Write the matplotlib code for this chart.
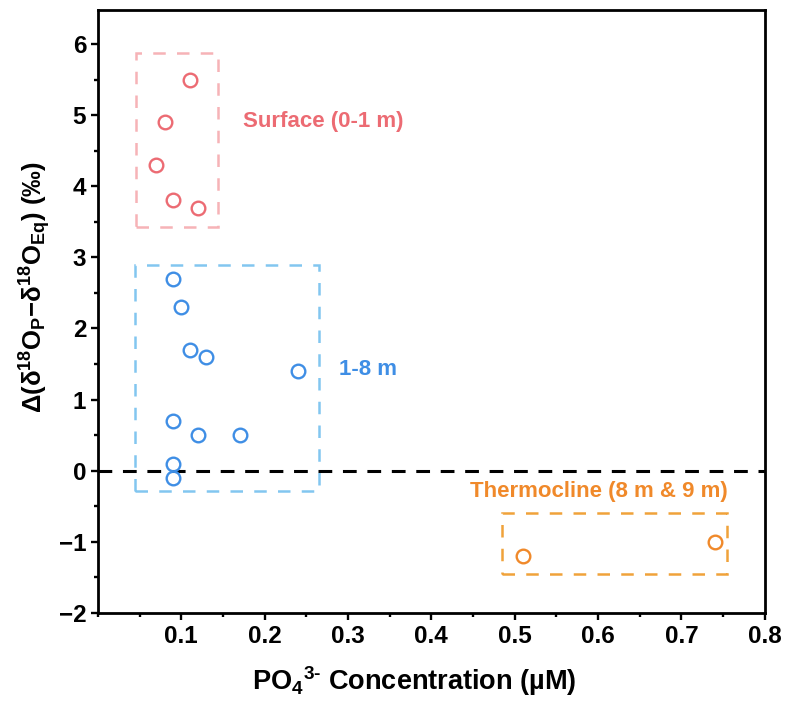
import matplotlib
matplotlib.use("Agg")
import matplotlib.pyplot as plt
from matplotlib.patches import Rectangle
from matplotlib.ticker import MultipleLocator, FixedLocator

plt.rcParams['font.family'] = ['Liberation Sans', 'DejaVu Sans']
plt.rcParams['font.weight'] = 'bold'
plt.rcParams['mathtext.fontset'] = 'custom'
plt.rcParams['mathtext.rm'] = 'Liberation Sans'
plt.rcParams['mathtext.it'] = 'Liberation Sans:italic'
plt.rcParams['mathtext.bf'] = 'Liberation Sans:bold'
plt.rcParams['mathtext.default'] = 'regular'

# PO4 concentration (uM) vs oxygen isotope offset (permil)
surface_x = [0.11, 0.08, 0.07, 0.09, 0.12]
surface_y = [5.5, 4.9, 4.3, 3.8, 3.7]

mid_x = [0.09, 0.10, 0.11, 0.13, 0.24, 0.09, 0.12, 0.17, 0.09, 0.09]
mid_y = [2.7, 2.3, 1.7, 1.6, 1.4, 0.7, 0.5, 0.5, 0.1, -0.1]

thermo_x = [0.51, 0.74]
thermo_y = [-1.2, -1.0]

x_ticks = [0.1, 0.2, 0.3, 0.4, 0.5, 0.6, 0.7, 0.8]
y_ticks = [-2, -1, 0, 1, 2, 3, 4, 5, 6]

red, red_box = '#EC6B73', '#F6B3B7'
blue, blue_box = '#3F8EE5', '#82C6F0'
orange, orange_box = '#F0892A', '#F0A23A'

fig = plt.figure(figsize=(7.9, 7.03), dpi=100)
ax = fig.add_axes([0.124, 0.128, 0.844, 0.858])

ax.axhline(0, color='black', lw=2.2, ls=(0, (4.5, 3.5)), zorder=1)

mk = dict(marker='o', ls='none', ms=9.8, mfc='none', mew=1.7, zorder=3)
ax.plot(surface_x, surface_y, mec=red, **mk)
ax.plot(mid_x, mid_y, mec=blue, **mk)
ax.plot(thermo_x, thermo_y, mec=orange, **mk)

# dashed boxes around each depth group
box = dict(fill=False, lw=1.8, ls=(0, (5, 4.5)), zorder=2)
ax.add_patch(Rectangle((0.046, 3.42), 0.0975, 2.45, ec=red_box, **box))
ax.add_patch(Rectangle((0.044, -0.28), 0.221, 3.17, ec=blue_box, **box))
ax.add_patch(Rectangle((0.485, -1.45), 0.27, 0.85, ec=orange_box, **box))

ax.text(0.1735, 4.91, 'Surface (0-1 m)', color=red, fontsize=16,
        fontweight='bold', va='center', ha='left')
ax.text(0.289, 1.42, '1-8 m', color=blue, fontsize=16,
        fontweight='bold', va='center', ha='left')
ax.text(0.756, -0.29, 'Thermocline (8 m & 9 m)', color=orange, fontsize=16,
        fontweight='bold', va='center', ha='right')

ax.set_xlim(0, 0.8)
ax.set_ylim(-2, 6.48)
ax.xaxis.set_major_locator(FixedLocator(x_ticks))
ax.xaxis.set_minor_locator(MultipleLocator(0.05))
ax.yaxis.set_major_locator(FixedLocator(y_ticks))
ax.yaxis.set_minor_locator(MultipleLocator(0.5))
ax.set_xticklabels([f'{v:.1f}' for v in x_ticks])
ax.set_yticklabels([str(v).replace('-', '−') for v in y_ticks])

ax.tick_params(which='both', direction='out', width=1.7, labelsize=17.5)
ax.tick_params(which='major', length=5)
ax.tick_params(which='minor', length=3)
for s in ax.spines.values():
    s.set_linewidth(2)

ax.set_xlabel(r'PO$_{\mathbf{4}}$$^{\mathbf{3‐}}$ Concentration (µM)',
              fontsize=19.5, fontweight='bold', labelpad=8)
ax.xaxis.set_label_coords(0.475, -0.085)
ax.set_ylabel(r'$\Delta$($\delta$$^{\mathbf{18}}$O$_{\mathbf{P}}$−'
              r'$\delta$$^{\mathbf{18}}$O$_{\mathbf{Eq}}$) (‰)',
              fontsize=18.5, fontweight='bold', labelpad=4)
ax.yaxis.set_label_coords(-0.068, 0.54)

fig.savefig('out.png', dpi=100)
